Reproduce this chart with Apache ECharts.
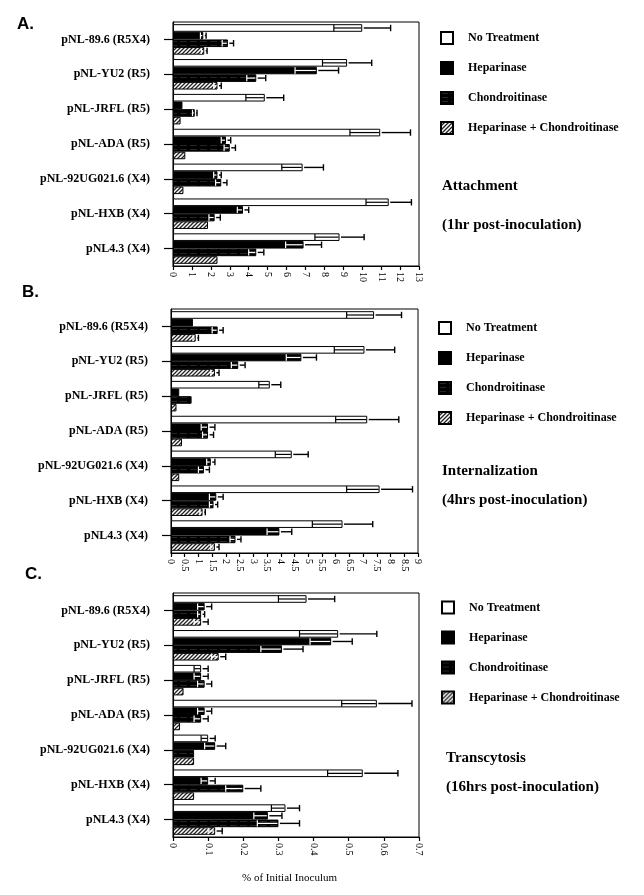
<!DOCTYPE html>
<html><head><meta charset="utf-8">
<script src="https://cdn.jsdelivr.net/npm/echarts@6/dist/echarts.min.js"></script>
<style>html,body{margin:0;padding:0;background:#fff}#c{width:644px;height:895px}</style>
</head><body><div id="c"></div>
<script>
const categories = ['pNL-89.6 (R5X4)', 'pNL-YU2 (R5)', 'pNL-JRFL (R5)', 'pNL-ADA (R5)', 'pNL-92UG021.6 (X4)', 'pNL-HXB (X4)', 'pNL4.3 (X4)'];
const treatments = ['No Treatment', 'Heparinase', 'Chondroitinase', 'Heparinase + Chondroitinase'];

// Panel A: Attachment
const A_noTreat = [10.0, 9.2, 4.85, 10.95, 6.85, 11.4, 8.8];
const A_noTreatErr = [1.5, 1.3, 1.0, 1.6, 1.1, 1.2, 1.3];
const A_hep = [1.6, 7.6, 0.5, 2.8, 2.35, 3.7, 6.9];
const A_hepErr = [0.15, 1.15, 0, 0.25, 0.2, 0.3, 0.95];
const A_chond = [2.9, 4.4, 1.15, 3.0, 2.55, 2.2, 4.4];
const A_chondErr = [0.3, 0.5, 0.12, 0.3, 0.3, 0.3, 0.4];
const A_hc = [1.65, 2.35, 0.4, 0.65, 0.55, 1.85, 2.35];
const A_hcErr = [0.15, 0.2, 0, 0, 0, 0, 0];
const A_ticks = [0, 13, 1];

// Panel B: Internalization
const B_noTreat = [7.4, 7.05, 3.6, 7.15, 4.4, 7.6, 6.25];
const B_noTreatErr = [1.0, 1.1, 0.4, 1.15, 0.6, 1.2, 1.1];
const B_hep = [0.8, 4.75, 0.3, 1.35, 1.45, 1.65, 3.95];
const B_hepErr = [0, 0.55, 0, 0.25, 0.15, 0.25, 0.45];
const B_chond = [1.7, 2.45, 0.75, 1.35, 1.2, 1.55, 2.35];
const B_chondErr = [0.2, 0.25, 0, 0.2, 0.2, 0.15, 0.2];
const B_hc = [0.9, 1.6, 0.2, 0.4, 0.3, 1.15, 1.6];
const B_hcErr = [0.1, 0.15, 0, 0, 0, 0.1, 0.15];
const B_ticks = [0, 9, 0.5];

// Panel C: Transcytosis
const C_noTreat = [0.38, 0.47, 0.08, 0.58, 0.10, 0.54, 0.32];
const C_noTreatErr = [0.08, 0.11, 0.02, 0.10, 0.02, 0.10, 0.04];
const C_hep = [0.09, 0.45, 0.08, 0.09, 0.12, 0.10, 0.27];
const C_hepErr = [0.02, 0.06, 0.02, 0.02, 0.03, 0.02, 0.04];
const C_chond = [0.08, 0.31, 0.09, 0.08, 0.06, 0.20, 0.30];
const C_chondErr = [0.01, 0.06, 0.02, 0.02, 0, 0.05, 0.06];
const C_hc = [0.08, 0.13, 0.03, 0.02, 0.06, 0.06, 0.12];
const C_hcErr = [0.02, 0.02, 0, 0, 0, 0, 0.02];
const C_ticks = [0, 0.7, 0.1];

const panelLetters = ['A.', 'B.', 'C.'];
const panelTitles = ['Attachment', 'Internalization', 'Transcytosis'];
const panelSubtitles = ['(1hr post-inoculation)', '(4hrs post-inoculation)', '(16hrs post-inoculation)'];
const xAxisTitle = '% of Initial Inoculum';

const panels = [
  {vals: [A_noTreat, A_hep, A_chond, A_hc], errs: [A_noTreatErr, A_hepErr, A_chondErr, A_hcErr], ticks: A_ticks},
  {vals: [B_noTreat, B_hep, B_chond, B_hc], errs: [B_noTreatErr, B_hepErr, B_chondErr, B_hcErr], ticks: B_ticks},
  {vals: [C_noTreat, C_hep, C_chond, C_hc], errs: [C_noTreatErr, C_hepErr, C_chondErr, C_hcErr], ticks: C_ticks}
];

// ---- layout / styles ----
const grids = [
  {left: 173, top: 22, width: 246, height: 244},
  {left: 171, top: 309, width: 247, height: 244},
  {left: 173, top: 593, width: 246, height: 244}
];
const legendPos = [
  {left: 435, top: 26},
  {left: 433, top: 316},
  {left: 436, top: 595.5}
];
const titlePos = [
  {x: 442, y1: 188, y2: 226.5},
  {x: 442, y1: 473, y2: 501.5},
  {x: 446, y1: 760, y2: 788.5}
];
const letterPos = [{x: 17, y: 26}, {x: 22, y: 294}, {x: 25, y: 576}];
const GAP = 0.125;

function chondPattern() {
  const c = document.createElement('canvas');
  c.width = 10; c.height = 4;
  const g = c.getContext('2d');
  g.fillStyle = '#000'; g.fillRect(0, 0, 10, 4);
  g.fillStyle = '#262626'; g.fillRect(0, 1, 7, 1);
  return c;
}
function hatchPattern() {
  const c = document.createElement('canvas');
  c.width = 4; c.height = 4;
  const g = c.getContext('2d');
  g.fillStyle = '#fff'; g.fillRect(0, 0, 4, 4);
  g.strokeStyle = '#222'; g.lineWidth = 1.3;
  g.beginPath();
  g.moveTo(-1, 5); g.lineTo(5, -1);
  g.moveTo(-1, 1); g.lineTo(1, -1);
  g.moveTo(3, 5); g.lineTo(5, 3);
  g.stroke();
  return c;
}
const fills = [
  '#ffffff',
  '#000000',
  {image: chondPattern(), repeat: 'repeat'},
  {image: hatchPattern(), repeat: 'repeat'}
];
const innerErrColor = ['#000', '#fff', '#fff', '#fff'];

const serif = '"Liberation Serif", "Times New Roman", serif';
const sans = '"Liberation Sans", Arial, sans-serif';

function errRender(si) {
  return function (params, api) {
    const v = api.value(0), cat = api.value(1), e = api.value(2);
    if (!e) return null;
    const band = api.size([0, 1])[1];
    const group = band * (1 - GAP);
    const bh = group / 4;
    const c = api.coord([v, cat]);
    const y = c[1] - group / 2 + bh * (si + 0.5);
    const xl = api.coord([v - e, cat])[0];
    const xh = api.coord([v + e, cat])[0];
    const xm = c[0];
    const cap = bh * 0.42;
    const ic = innerErrColor[si];
    const st = {stroke: '#000', lineWidth: 1.4};
    return {
      type: 'group',
      children: [
        {type: 'line', shape: {x1: xl, y1: y, x2: xm - 1, y2: y}, style: {stroke: ic, lineWidth: 1.2}},
        {type: 'line', shape: {x1: xl, y1: y - cap, x2: xl, y2: y + cap}, style: {stroke: ic, lineWidth: 1.2}},
        {type: 'line', shape: {x1: xm + 1.5, y1: y, x2: xh, y2: y}, style: st},
        {type: 'line', shape: {x1: xh, y1: y - cap, x2: xh, y2: y + cap}, style: st}
      ]
    };
  };
}

const option = {
  animation: false,
  backgroundColor: '#fff',
  grid: grids.map(g => Object.assign({show: true, borderColor: '#000', borderWidth: 1, backgroundColor: 'transparent'}, g)),
  xAxis: panels.map((p, i) => ({
    type: 'value', gridIndex: i, min: p.ticks[0], max: p.ticks[1], interval: p.ticks[2],
    axisLine: {show: true, lineStyle: {color: '#000', width: 1.2}},
    axisTick: {show: true, length: 4, lineStyle: {color: '#000', width: 1.2}},
    splitLine: {show: false},
    axisLabel: {rotate: -90, margin: 6, fontFamily: serif, fontSize: 10, color: '#000'}
  })),
  yAxis: panels.map((p, i) => ({
    type: 'category', gridIndex: i, data: categories, inverse: true,
    axisLine: {show: true, lineStyle: {color: '#000', width: 1.2}},
    axisTick: {show: true, alignWithLabel: true, length: 9, lineStyle: {color: '#000', width: 1.2}},
    axisLabel: {margin: 23, fontFamily: serif, fontWeight: 'bold', fontSize: 12, color: '#000'}
  })),
  legend: panels.map((p, i) => ({
    data: treatments, orient: 'vertical', left: legendPos[i].left, top: legendPos[i].top,
    itemWidth: 12, itemHeight: 12, itemGap: 16, selectedMode: false, icon: 'rect',
    textStyle: {fontFamily: serif, fontWeight: 'bold', fontSize: 12, color: '#000', lineHeight: 12, padding: [0, 0, 0, 10]}
  })),
  series: [],
  graphic: []
};

panels.forEach((p, i) => {
  p.vals.forEach((arr, si) => {
    option.series.push({
      type: 'bar', name: treatments[si], xAxisIndex: i, yAxisIndex: i,
      data: arr, barGap: '0%', barCategoryGap: (GAP * 100) + '%',
      itemStyle: {color: fills[si], borderColor: '#000', borderWidth: 1},
      emphasis: {disabled: true}
    });
  });
  p.vals.forEach((arr, si) => {
    option.series.push({
      type: 'custom', xAxisIndex: i, yAxisIndex: i, z: 5,
      renderItem: errRender(si),
      encode: {x: 0, y: 1},
      data: arr.map((v, k) => [v, k, p.errs[si][k]]),
      silent: true
    });
  });
  option.graphic.push({type: 'text', left: letterPos[i].x, top: letterPos[i].y - 10,
    style: {text: panelLetters[i], font: 'bold 17px ' + sans, fill: '#000'}});
  option.graphic.push({type: 'text', left: titlePos[i].x, top: titlePos[i].y1 - 9,
    style: {text: panelTitles[i], font: 'bold 15px ' + serif, fill: '#000'}});
  option.graphic.push({type: 'text', left: titlePos[i].x, top: titlePos[i].y2 - 9,
    style: {text: panelSubtitles[i], font: 'bold 15px ' + serif, fill: '#000'}});
});
option.graphic.push({type: 'text', left: 242, top: 873,
  style: {text: xAxisTitle, font: '11px ' + serif, fill: '#000'}});

const chart = echarts.init(document.getElementById('c'), null, {renderer: 'canvas'});
chart.setOption(option);
</script>
</body></html>
